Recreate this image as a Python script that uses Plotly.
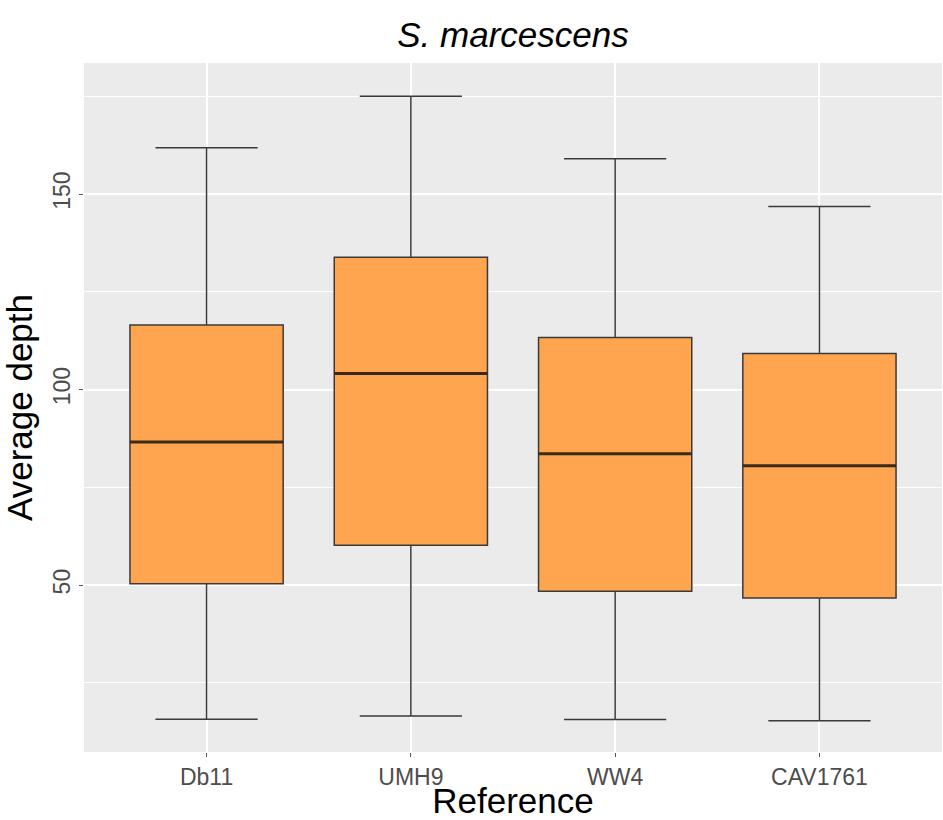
import plotly.graph_objects as go

categories = ["Db11", "UMH9", "WW4", "CAV1761"]
lower_whisker = [15.7, 16.5, 15.6, 15.3]
q1_values = [50.3, 60.2, 48.4, 46.7]
median_values = [86.6, 104.1, 83.6, 80.5]
q3_values = [116.5, 133.8, 113.3, 109.2]
upper_whisker = [161.8, 175.0, 159.0, 146.8]
y_tick_values = [50, 100, 150]

fill_color = "#FFA54F"
line_color = "#3a3a3a"

fig = go.Figure()
fig.add_trace(go.Box(
    x=categories,
    q1=q1_values, median=median_values, q3=q3_values,
    lowerfence=lower_whisker, upperfence=upper_whisker,
    fillcolor=fill_color,
    line=dict(color=line_color, width=1.5),
    width=0.75, whiskerwidth=0.667,
    boxpoints=False, showlegend=False, hoverinfo="skip",
    offsetgroup="a",
))
# thicker median line overlay (ggplot fatten)
fig.add_trace(go.Box(
    x=categories,
    q1=median_values, median=median_values, q3=median_values,
    lowerfence=median_values, upperfence=median_values,
    fillcolor="rgba(0,0,0,0)",
    line=dict(color="#3b2a17", width=3),
    width=0.75, whiskerwidth=0,
    boxpoints=False, showlegend=False, hoverinfo="skip",
    offsetgroup="a",
))

fig.update_layout(
    width=943, height=820,
    margin=dict(l=84, r=1, t=63, b=68),
    paper_bgcolor="white", plot_bgcolor="#EBEBEB",
    boxmode="overlay",
    font=dict(family="Liberation Sans, Arial, sans-serif"),
    title=dict(
        text="<i>S. marcescens</i>",
        font=dict(size=35, color="black"),
        x=0.5, xanchor="center", xref="paper",
        y=1 - 35 / 820, yanchor="middle", yref="container",
    ),
    xaxis=dict(
        range=[-0.6, 3.6],
        showgrid=True, gridcolor="white", gridwidth=1.5,
        zeroline=False, showline=False,
        ticks="outside", ticklen=4, tickcolor="#555555", tickwidth=1,
        tickfont=dict(size=23, color="#4D4D4D"),
        title=dict(text="Reference", font=dict(size=35, color="black"), standoff=0),
    ),
    yaxis=dict(
        range=[7.3, 183.5],
        tickvals=y_tick_values,
        tickangle=-90,
        showgrid=True, gridcolor="white", gridwidth=1.5,
        zeroline=False, showline=False,
        ticks="outside", ticklen=4, tickcolor="#555555", tickwidth=1,
        tickfont=dict(size=23, color="#4D4D4D"),
        minor=dict(dtick=25, tick0=0, showgrid=True, gridcolor="white", gridwidth=0.7),
        title=dict(text="Average depth", font=dict(size=35, color="black"), standoff=5),
    ),
)

fig.write_html("out.html")
